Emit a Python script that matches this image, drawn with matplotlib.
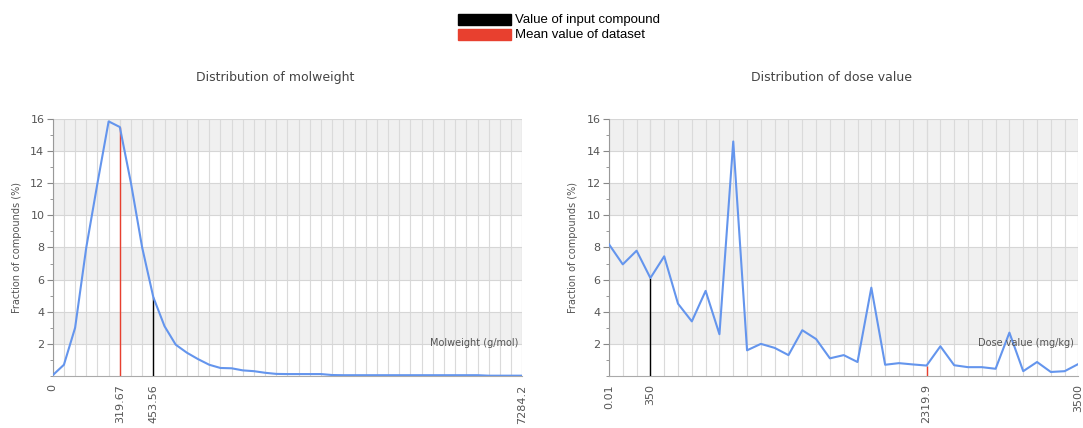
# Two distribution panels: molweight and dose value.
import numpy as np
import matplotlib
matplotlib.use("Agg")
import matplotlib.pyplot as plt
from matplotlib.patches import Rectangle
from matplotlib.ticker import FixedLocator, MultipleLocator

# Fraction of compounds (%) per molweight bin (bins of 50 g/mol).
mol_frac = [0.05, 0.7, 3.0, 8.0, 12.0, 15.85, 15.5, 12.0, 8.0, 4.9,
            3.1, 1.95, 1.45, 1.05, 0.7, 0.5, 0.48, 0.35, 0.3, 0.2,
            0.13, 0.12, 0.12, 0.12, 0.12, 0.06, 0.05, 0.05, 0.05, 0.05,
            0.05, 0.05, 0.05, 0.05, 0.05, 0.05, 0.05, 0.05, 0.05, 0.02,
            0.02, 0.02, 0.02]
mol_tick_bins = [0, 6, 9, 42]
mol_tick_labels = ["0", "319.67", "453.56", "7284.2"]
mol_input_bin = 9
mol_mean_bin = 6

# Fraction of compounds (%) per dose bin (bins of 100 mg/kg).
dose_frac = [8.2, 6.95, 7.8, 6.1, 7.45, 4.5, 3.4, 5.3, 2.6, 14.6,
             1.6, 2.0, 1.75, 1.3, 2.85, 2.3, 1.1, 1.3, 0.87, 5.5,
             0.7, 0.8, 0.72, 0.65, 1.85, 0.67, 0.55, 0.55, 0.45, 2.7,
             0.3, 0.87, 0.25, 0.3, 0.75]
dose_tick_bins = [0, 3, 23, 34]
dose_tick_labels = ["0.01", "350", "2319.9", "3500"]
dose_input_bin = 3
dose_mean_bin = 23

BLUE = "#6495ed"
RED = "#e8402f"
GREY_TXT = "#555555"


def draw_panel(ax, values, tick_bins, tick_labels, input_bin, mean_bin, xlabel):
    n = len(values)
    x = np.arange(n)

    # alternating grey bands
    for lo in [2, 6, 10, 14]:
        ax.axhspan(lo, lo + 2, color="#f0f0f0", zorder=0, lw=0)

    ax.set_xlim(0, n - 1)
    ax.set_ylim(0, 16)

    # one vertical grid line per bin
    ax.xaxis.set_minor_locator(FixedLocator(list(x)))
    ax.xaxis.remove_overlapping_locs = False
    ax.set_xticks(tick_bins)
    ax.set_xticklabels(tick_labels, rotation=90, fontsize=8, color=GREY_TXT)
    ax.grid(True, which="minor", axis="x", color="#dadada", lw=0.8, zorder=1)
    ax.grid(True, which="major", axis="x", color="#dadada", lw=0.8, zorder=1)
    ax.tick_params(axis="x", which="both", length=0, pad=6)

    ax.set_yticks(range(2, 17, 2))
    ax.yaxis.set_minor_locator(MultipleLocator(1))
    ax.grid(True, which="major", axis="y", color="#d6d6d6", lw=0.8, zorder=1)
    ax.tick_params(axis="y", which="major", length=4, labelsize=8,
                   colors="#888888", labelcolor=GREY_TXT, pad=2)
    ax.tick_params(axis="y", which="minor", length=2, colors="#888888")

    for side in ["top", "right"]:
        ax.spines[side].set_visible(False)
    ax.spines["left"].set_color("#999999")
    ax.spines["bottom"].set_color("#aaaaaa")

    # marker lines for the input compound and the dataset mean
    ax.vlines(input_bin, 0, values[input_bin], color="black", lw=1.0, zorder=3)
    ax.vlines(mean_bin, 0, values[mean_bin], color=RED, lw=1.0, zorder=3)

    ax.plot(x, values, color=BLUE, lw=1.5, zorder=4)

    ax.set_ylabel("Fraction of compounds (%)", fontsize=7, color=GREY_TXT, labelpad=6)
    ax.text(n - 1.3, 2.05, xlabel, ha="right", va="center", fontsize=7,
            color=GREY_TXT, zorder=5)


fig = plt.figure(figsize=(10.83, 4.28), dpi=100)
ax1 = fig.add_axes([0.0487, 0.1215, 0.4335, 0.6005])
ax2 = fig.add_axes([0.5623, 0.1215, 0.4335, 0.6005])

draw_panel(ax1, mol_frac, mol_tick_bins, mol_tick_labels,
           mol_input_bin, mol_mean_bin, "Molweight (g/mol)")
draw_panel(ax2, dose_frac, dose_tick_bins, dose_tick_labels,
           dose_input_bin, dose_mean_bin, "Dose value (mg/kg)")

fig.text(0.254, 0.818, "Distribution of molweight", ha="center", va="center",
         fontsize=9, color="#444444")
fig.text(0.768, 0.818, "Distribution of dose value", ha="center", va="center",
         fontsize=9, color="#444444")

# legend at the top
fig.add_artist(Rectangle((0.4229, 1 - 25 / 428), 0.0489, 11 / 428,
                         transform=fig.transFigure, color="black"))
fig.add_artist(Rectangle((0.4229, 1 - 40 / 428), 0.0489, 11 / 428,
                         transform=fig.transFigure, color=RED))
fig.text(0.4755, 1 - 19.5 / 428, "Value of input compound", ha="left", va="center",
         fontsize=9.5, family="Liberation Sans", color="black")
fig.text(0.4755, 1 - 34.5 / 428, "Mean value of dataset", ha="left", va="center",
         fontsize=9.5, family="Liberation Sans", color="black")

fig.savefig("out.png", dpi=100)
